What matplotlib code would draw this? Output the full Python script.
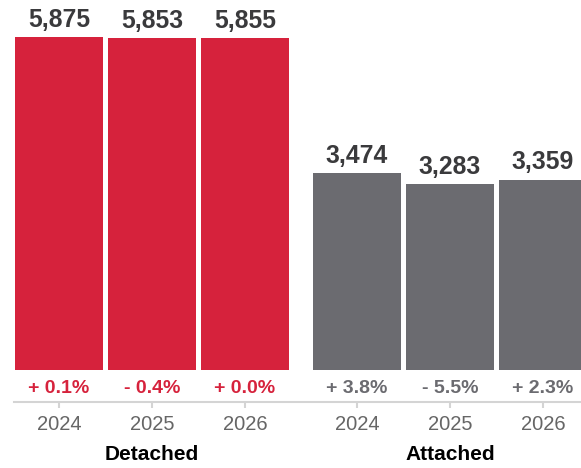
import matplotlib.pyplot as plt
import numpy as np

plt.rcParams['font.family'] = ['Liberation Sans', 'DejaVu Sans']

# data
groups = ['Detached', 'Attached']
years = ['2024', '2025', '2026']
detached = [5875, 5853, 5855]
attached = [3474, 3283, 3359]
detached_chg = ['+ 0.1%', '- 0.4%', '+ 0.0%']
attached_chg = ['+ 3.8%', '- 5.5%', '+ 2.3%']

red = '#d6223c'
gray = '#6b6b70'

fig = plt.figure(figsize=(5.81, 4.68), dpi=100)
# axes: bottom spine at pixel 402, top at pixel 37
ax = fig.add_axes([0, 1 - 402 / 468, 1, 365 / 468])

step = 93
width = 88
first = 59
group_gap = 19
x_det = first + np.arange(3) * step
x_att = x_det[-1] + step + group_gap + np.arange(3) * step

series = [(x_det, detached, detached_chg, red), (x_att, attached, attached_chg, gray)]
for xs, vals, chg, col in series:
    ax.bar(xs, vals, width=width, color=col)
    for x, v, c in zip(xs, vals, chg):
        ax.annotate(f'{v:,}', (x, v), xytext=(0, 7.5), textcoords='offset points',
                    ha='center', va='baseline', fontsize=17.8, fontweight='bold',
                    color='#3a3a3c', annotation_clip=False)
        ax.annotate(c, (x, 0), xytext=(0, -13.5), textcoords='offset points',
                    ha='center', va='center', fontsize=14, fontweight='bold',
                    color=col, annotation_clip=False)

top = max(detached)
ymin = -32 * top / 333
ax.set_ylim(ymin, top)
ax.set_xlim(0, 581)

for s in ['top', 'right', 'left']:
    ax.spines[s].set_visible(False)
ax.spines['bottom'].set_color('#d4d4d4')
ax.spines['bottom'].set_linewidth(1.5)
ax.spines['bottom'].set_bounds(14, 581)
ax.set_yticks([])
ax.set_xticks(np.concatenate([x_det, x_att]))
ax.set_xticklabels(years * 2)
ax.tick_params(axis='x', length=4, width=1.5, color='#d4d4d4', pad=5,
               labelsize=14.5, labelcolor='#666666')

for xs, g in zip([x_det, x_att], groups):
    fig.text(xs.mean() / 581, 1 - 454 / 468, g, ha='center', va='center',
             fontsize=15, fontweight='bold', color='black')

fig.savefig('out.png', dpi=100)
